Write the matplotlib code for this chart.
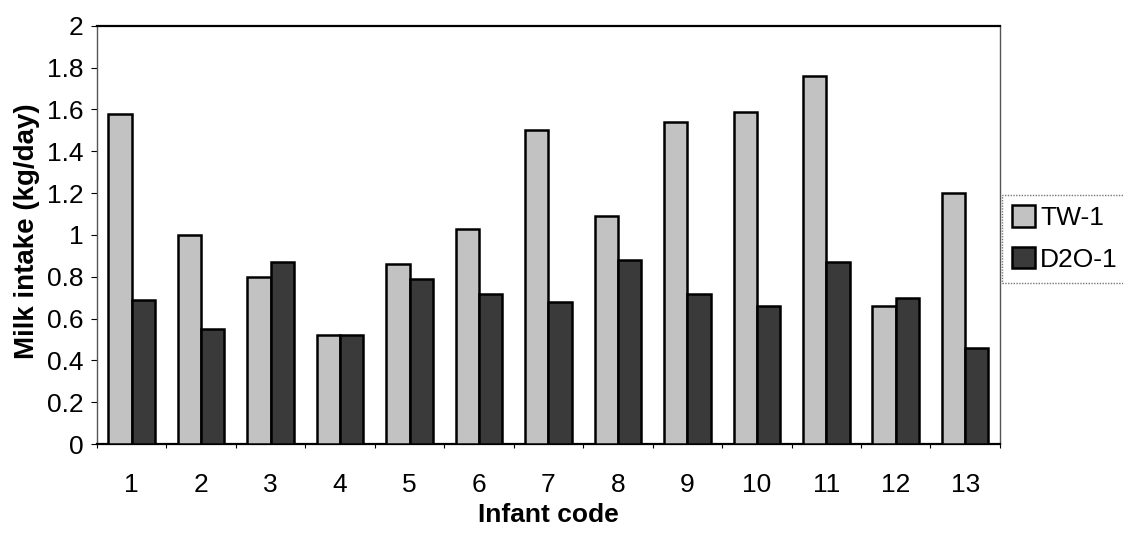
import matplotlib
matplotlib.use("Agg")
import matplotlib.pyplot as plt
import numpy as np

infants = ["1", "2", "3", "4", "5", "6", "7", "8", "9", "10", "11", "12", "13"]
tw1 = [1.58, 1.00, 0.80, 0.52, 0.86, 1.03, 1.50, 1.09, 1.54, 1.59, 1.76, 0.66, 1.20]
d2o1 = [0.69, 0.55, 0.87, 0.52, 0.79, 0.72, 0.68, 0.88, 0.72, 0.66, 0.87, 0.70, 0.46]
yticks = [0, 0.2, 0.4, 0.6, 0.8, 1, 1.2, 1.4, 1.6, 1.8, 2]
ytick_labels = ["0", "0.2", "0.4", "0.6", "0.8", "1", "1.2", "1.4", "1.6", "1.8", "2"]

plt.rcParams['font.family'] = ['Liberation Sans', 'DejaVu Sans']

fig = plt.figure(figsize=(11.23, 5.37), dpi=100)
ax = fig.add_axes([0.0864, 0.173, 0.804, 0.779])

x = np.arange(len(infants))
w = 0.335
ax.bar(x - w / 2, tw1, width=w, color="#c2c2c2", edgecolor="black", linewidth=1.8, label="TW-1", zorder=3)
ax.bar(x + w / 2, d2o1, width=w, color="#3a3a3a", edgecolor="black", linewidth=1.8, label="D2O-1", zorder=3)

ax.set_xlim(-0.5, len(infants) - 0.5)
ax.set_ylim(0, 2)
ax.set_yticks(yticks)
ax.set_yticklabels(ytick_labels, fontsize=19)
ax.set_xticks(x)
ax.set_xticklabels(infants, fontsize=19)
ax.set_xticks(np.arange(len(infants) + 1) - 0.5, minor=True)
ax.tick_params(axis='x', which='major', length=0, pad=21)
ax.tick_params(axis='x', which='minor', length=3, width=0.8, direction='out')
ax.tick_params(axis='y', length=4, width=0.8, direction='out', pad=6)

for side in ['top', 'bottom']:
    ax.spines[side].set_linewidth(1.6)
    ax.spines[side].set_color('black')
for side in ['left', 'right']:
    ax.spines[side].set_linewidth(1.0)
    ax.spines[side].set_color('#555555')
    ax.spines[side].set_linestyle((0, (1, 1)))

ax.set_xlabel("Infant code", fontsize=19, fontweight='bold', labelpad=4)
ax.set_ylabel("Milk intake (kg/day)", fontsize=20, fontweight='bold')
ax.yaxis.set_label_coords(-0.063, 0.51)

leg = fig.legend(loc='upper left', bbox_to_anchor=(0.892, 0.637), fontsize=19,
                 frameon=True, fancybox=False, borderpad=0.4, handlelength=0.85,
                 handleheight=0.85, handletextpad=0.2, labelspacing=0.65,
                 borderaxespad=0)
leg.get_frame().set_edgecolor('#555555')
leg.get_frame().set_linestyle((0, (1, 1)))
leg.get_frame().set_linewidth(1.0)

fig.savefig("out.png", dpi=100)
